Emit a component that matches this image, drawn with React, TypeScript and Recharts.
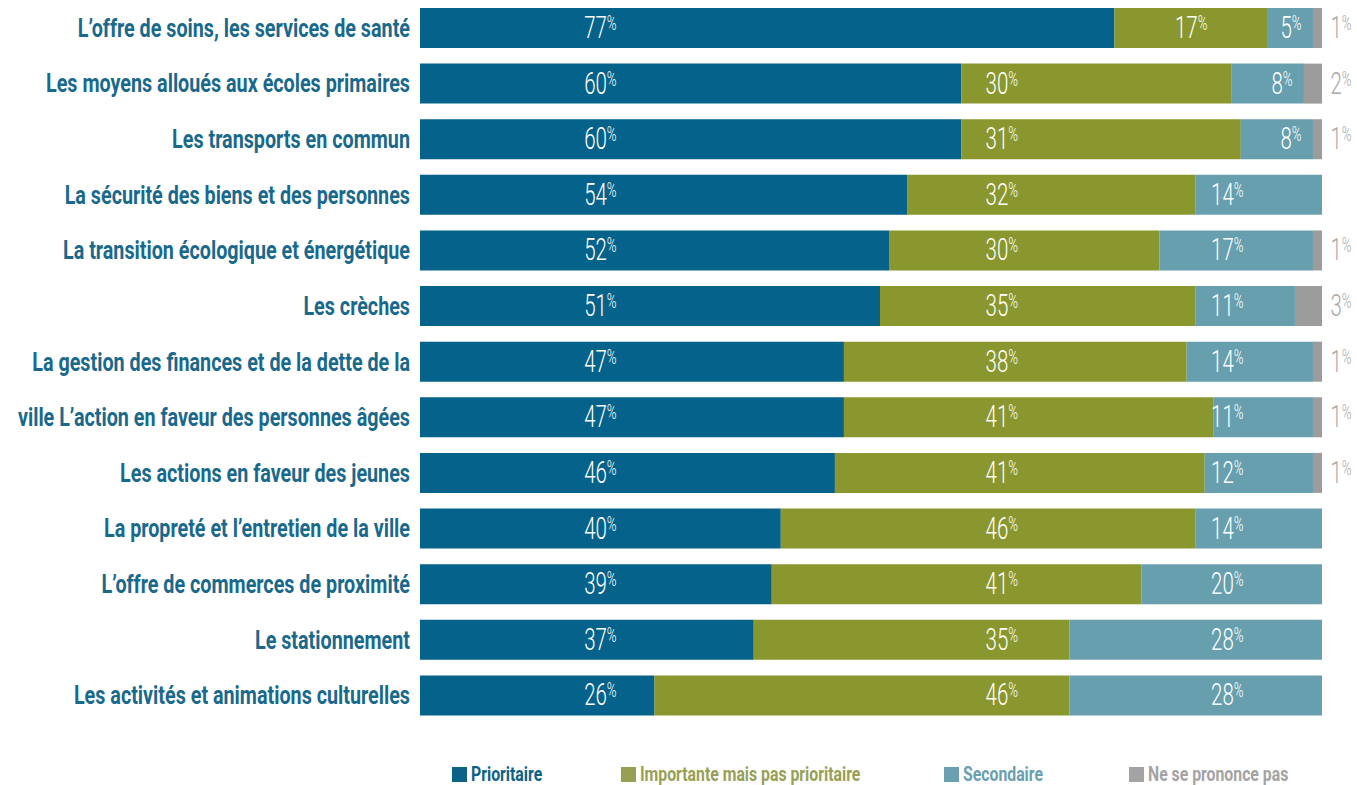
import React from 'react';
import { BarChart, Bar, XAxis, YAxis, LabelList, Legend } from 'recharts';

const categories = [
  "L’offre de soins, les services de santé",
  "Les moyens alloués aux écoles primaires",
  "Les transports en commun",
  "La sécurité des biens et des personnes",
  "La transition écologique et énergétique",
  "Les crèches",
  "La gestion des finances et de la dette de la",
  "ville L’action en faveur des personnes âgées",
  "Les actions en faveur des jeunes",
  "La propreté et l’entretien de la ville",
  "L’offre de commerces de proximité",
  "Le stationnement",
  "Les activités et animations culturelles",
];
const prioritaire = [77, 60, 60, 54, 52, 51, 47, 47, 46, 40, 39, 37, 26];
const importante = [17, 30, 31, 32, 30, 35, 38, 41, 41, 46, 41, 35, 46];
const secondaire = [5, 8, 8, 14, 17, 11, 14, 11, 12, 14, 20, 28, 28];
const nsp = [1, 2, 1, 0, 1, 3, 1, 1, 1, 0, 0, 0, 0];

const seriesKeys = ['p', 'i', 's', 'n'];
const seriesNames = ['Prioritaire', 'Importante mais pas prioritaire', 'Secondaire', 'Ne se prononce pas'];
const seriesColors = ['#05628a', '#8a972e', '#679fae', '#9c9c9c'];
const legendColors = ['#0b6289', '#989f55', '#6aa0b0', '#a3a3a3'];
const seriesValues = [prioritaire, importante, secondaire, nsp];

const data = categories.map((name, idx) => ({
  name,
  p: prioritaire[idx],
  i: importante[idx],
  s: secondaire[idx],
  n: nsp[idx],
}));

// fraction of the axis where each series label is anchored
const anchorFrac = [0.2, 0.645, 0.895];

const makeLabel = (si: number) => (props: any) => {
  const { x, y, width, height, value, index } = props;
  if (!value) return null;
  const cy = y + height / 2;
  let cx: number;
  let color = '#ffffff';
  if (si === 3) {
    cx = x + width + 19;
    color = '#a8a8a8';
  } else {
    const px = width / value;
    let before = 0;
    for (let k = 0; k < si; k++) before += seriesValues[k][index];
    const axisStart = x - before * px;
    const fx = axisStart + anchorFrac[si] * 100 * px;
    if (fx >= x && fx <= x + width) cx = fx;
    else if (width < 80) cx = x + width - 22;
    else cx = x + width / 2;
  }
  return (
    <g transform={`translate(${cx},${cy}) scale(0.66,1)`}>
      <text x={0} y={10} textAnchor="middle" fontFamily="Roboto" fontWeight={300} fontSize={31} fill={color}>
        {value}
        <tspan fontSize={20} dy={-8}>%</tspan>
      </text>
    </g>
  );
};

const CatTick = (props: any) => {
  const { x, y, payload } = props;
  return (
    <g transform={`translate(${x},${y}) scale(0.76,1)`}>
      <text x={0} y={0} dy={9} textAnchor="end" fontFamily="Roboto" fontWeight={700} fontSize={26} fill="#19698d">
        {payload.value}
      </text>
    </g>
  );
};

const legendX = [452, 621, 944, 1129];

const LegendContent = () => (
  <svg width={1357} height={24}>
    {seriesNames.map((n, k) => (
      <g key={n}>
        <rect x={legendX[k]} y={4} width={15} height={15} fill={legendColors[k]} />
        <g transform={`translate(${legendX[k] + 19},18) scale(0.79,1)`}>
          <text x={0} y={0} fontFamily="Roboto" fontWeight={700} fontSize={20} fill={legendColors[k]}>{n}</text>
        </g>
      </g>
    ))}
  </svg>
);

export default function App() {
  return (
    <div style={{ position: 'absolute', left: 0, top: 0 }}>
      <BarChart
        width={1357}
        height={785}
        data={data}
        layout="vertical"
        margin={{ top: 0, right: 35, left: 0, bottom: 38 }}
        barCategoryGap={16}
      >
        <XAxis type="number" domain={[0, 100]} hide />
        <YAxis
          type="category"
          dataKey="name"
          width={420}
          axisLine={false}
          tickLine={false}
          tickSize={0}
          tickMargin={10}
          tick={<CatTick />}
          interval={0}
        />
        <Legend
          verticalAlign="bottom"
          content={<LegendContent />}
          wrapperStyle={{ position: 'absolute', left: 0, top: 763, bottom: 'auto', width: 1357, height: 24 }}
        />
        {seriesKeys.map((k, si) => (
          <Bar key={k} dataKey={k} name={seriesNames[si]} stackId="a" fill={seriesColors[si]} barSize={40} isAnimationActive={false}>
            <LabelList dataKey={k} content={makeLabel(si)} />
          </Bar>
        ))}
      </BarChart>
    </div>
  );
}
